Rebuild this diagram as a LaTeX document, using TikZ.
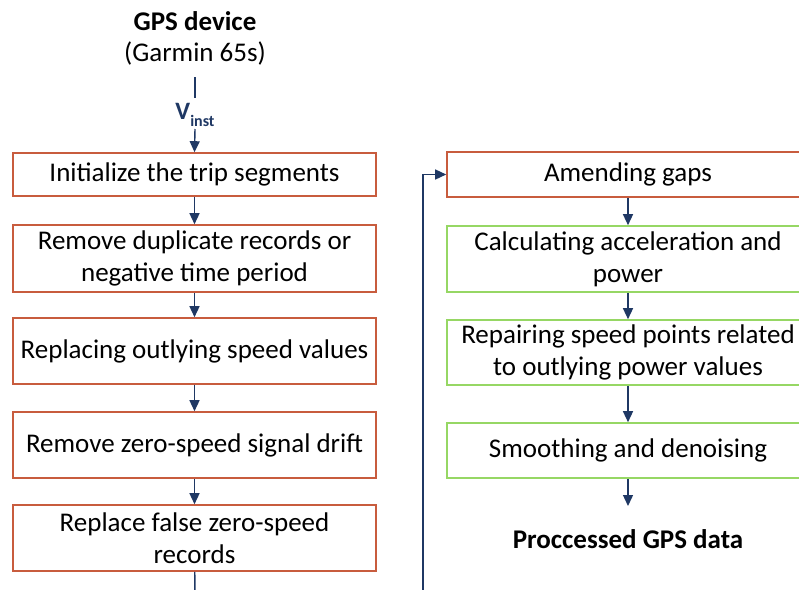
\documentclass[tikz,border=0pt]{standalone}
\usepackage{fontspec}
\setmainfont{Carlito}
\usetikzlibrary{arrows.meta}
\definecolor{boxred}{RGB}{200,92,62}
\definecolor{boxgreen}{RGB}{150,215,100}
\definecolor{navy}{RGB}{31,56,100}
\begin{document}
\begin{tikzpicture}[x=1pt,y=-1pt,
  txt/.style={font=\fontsize{27}{32}\selectfont, align=center, inner sep=0pt},
  redbox/.style={txt, draw=boxred, line width=1.6pt, minimum width=363pt},
  greenbox/.style={txt, draw=boxgreen, line width=1.6pt, minimum width=362pt},
  conn/.style={draw=navy, line width=1.4pt},
  arr/.style={conn, -{Triangle[width=10pt,length=11pt]}}]
\useasboundingbox (0,0) rectangle (799,589);
\clip (0,0) rectangle (799,589);
\fill[white] (0,0) rectangle (799,589);
% top
\node[txt, font=\fontsize{27}{32}\selectfont\bfseries] (gps) at (195,21) {GPS device};
\node[txt] (garmin) at (195,53) {(Garmin 65s)};
\node[txt, text=navy, font=\bfseries, inner sep=0pt] (vinst) at (195,115) {\fontsize{25}{28}\selectfont V\raisebox{-0.3em}{\fontsize{16}{18}\selectfont inst}};
% left column
\node[redbox, minimum height=43pt] (b1) at (194.5,174.5) {Initialize the trip segments};
\node[redbox, minimum height=67pt] (b2) at (194.5,258.5) {Remove duplicate records or\\negative time period};
\node[redbox, minimum height=66pt] (b3) at (194.5,351) {Replacing outlying speed values};
\node[redbox, minimum height=66pt] (b4) at (194.5,445) {Remove zero-speed signal drift};
\node[redbox, minimum height=66pt] (b5) at (194.5,538) {Replace false zero-speed\\records};
% right column
\node[redbox, minimum width=362pt, minimum height=45pt] (ra) at (628,174.5) {Amending gaps};
\node[greenbox, minimum height=66pt] (rb) at (628,259) {Calculating acceleration and\\power};
\node[greenbox, minimum height=65pt] (rc) at (628,352.5) {Repairing speed points related\\to outlying power values};
\node[greenbox, minimum height=55pt] (rd) at (628,450.5) {Smoothing and denoising};
\node[txt, font=\fontsize{27}{32}\selectfont\bfseries] (out) at (628,539) {Proccessed GPS data};
% connectors
\coordinate (gline) at (195,77);
\coordinate (vtop) at (195,98);
\coordinate (vbot) at (195,129);
\coordinate (outtop) at (628,506);
\coordinate (b5end) at (195,600);
\coordinate (loopbot) at (423,600);
\draw[conn] (gline) -- (vtop);
\draw[arr] (vbot) -- (b1.north);
\draw[arr] (b1) -- (b2);
\draw[arr] (b2) -- (b3);
\draw[arr] (b3) -- (b4);
\draw[arr] (b4) -- (b5);
\draw[conn] (b5) -- (b5end);
\draw[arr] (loopbot) |- (ra.west);
\draw[arr] (ra) -- (rb);
\draw[arr] (rb) -- (rc);
\draw[arr] (rc) -- (rd);
\draw[arr] (rd) -- (outtop);
\end{tikzpicture}
\end{document}
